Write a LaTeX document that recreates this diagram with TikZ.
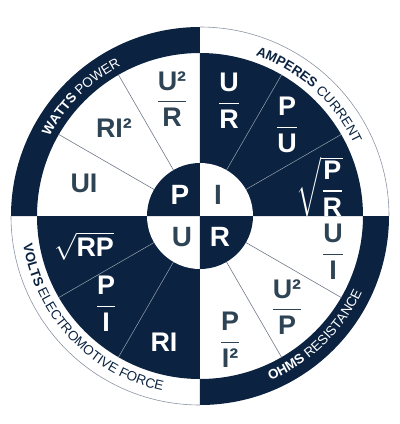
\RequirePackage{fix-cm}
\documentclass[tikz,border=0pt]{standalone}
\usepackage{amsmath}
\usepackage{fontspec}
\setmainfont{Liberation Sans}
\usepackage{tikz}
\usetikzlibrary{decorations.text}

\definecolor{navy}{HTML}{0B2341}
\definecolor{slate}{HTML}{2E4454}
\definecolor{rim}{HTML}{8C95A2}
\definecolor{spoke}{HTML}{6F7787}
\definecolor{spokelt}{HTML}{9AA3B0}

\newcommand{\ringfont}{\fontsize{13.5}{14}\selectfont}
\newcommand{\ratio}[2]{\ensuremath{\genfrac{}{}{1.5pt}{0}{\text{#1}}{\text{#2}}}}

\tikzset{
	form/.style={font=\bfseries\fontsize{27}{27}\selectfont, inner sep=0pt},
	onwhite/.style={form, text=slate},
	ondark/.style={form, text=white},
	hub/.style={font=\bfseries\fontsize{28}{28}\selectfont, inner sep=0pt},
}

\begin{document}
\begin{tikzpicture}[x=1bp,y=1bp]
		\useasboundingbox (-200,-208) rectangle (200,216);
		\coordinate (O) at (0,0);
		
		% ring and quarters
		\fill[navy] (90:189) arc[start angle=90, end angle=180, radius=189]
			-- (180:163) arc[start angle=180, end angle=90, radius=163] -- cycle;
		\fill[navy] (270:189) arc[start angle=270, end angle=360, radius=189]
			-- (0:163) arc[start angle=0, end angle=-90, radius=163] -- cycle;
		\fill[navy] (O) -- (0:163) arc[start angle=0, end angle=90, radius=163] -- cycle;
		\fill[navy] (O) -- (180:163) arc[start angle=180, end angle=270, radius=163] -- cycle;
		\draw[rim, line width=0.6pt] (0:189) arc[start angle=0, end angle=90, radius=189];
		\draw[rim, line width=0.6pt] (180:189) arc[start angle=180, end angle=270, radius=189];
		
		\foreach \a in {30,60,210,240}
			\draw[spokelt, line width=0.5pt] (\a:53) -- (\a:163);
		\foreach \a in {120,150,300,330}
			\draw[spoke, line width=0.6pt] (\a:53) -- (\a:163);
		
		% hub
		\fill[white] (O) circle[radius=53];
		\fill[navy] (O) -- (90:53) arc[start angle=90, end angle=180, radius=53] -- cycle;
		\fill[navy] (O) -- (-90:53) arc[start angle=-90, end angle=0, radius=53] -- cycle;
		\node[hub, text=white] (p) at (-20,21) {P};
		\node[hub, text=slate] (i) at (18,21) {I};
		\node[hub, text=slate] (u) at (-18,-21) {U};
		\node[hub, text=white] (r) at (20,-21) {R};
		
		% ring labels
		\path[decorate, decoration={text along path, text align=center, text color=white,
			text={|\ringfont\bfseries|WATTS |\ringfont\mdseries|POWER}}]
			(180:170) arc[start angle=180, end angle=90, radius=170];
		\path[decorate, decoration={text along path, text align=center, text color=navy,
			text={|\ringfont\bfseries|AMPERES |\ringfont\mdseries|CURRENT}}]
			(96:170) arc[start angle=96, end angle=0, radius=170];
		\path[decorate, decoration={text along path, text align=center, text color=navy,
			text={|\ringfont\bfseries|VOLTS |\ringfont\mdseries|ELECTROMOTIVE FORCE}}]
			(181:179) arc[start angle=181, end angle=266, radius=179];
		\path[decorate, decoration={text along path, text align=center, text color=white,
			text={|\ringfont\bfseries|OHMS |\ringfont\mdseries|RESISTANCE}}]
			(-92:179) arc[start angle=-92, end angle=0, radius=179];
		
		% formulas
		\node[onwhite] (usqr) at (-28,117) {\ratio{U²}{R}};
		\node[onwhite] (risq) at (-86,88) {RI²};
		\node[onwhite] (ui) at (-116,33) {UI};
		\node[ondark] (ur) at (29,115) {\ratio{U}{R}};
		\node[ondark] (pu) at (87,91) {\ratio{P}{U}};
		\node[ondark] (rtpr) at (120,29) {$\sqrt{\ratio{P}{R}}$};
		\node[onwhite] (uovi) at (133,-36) {\ratio{U}{I}};
		\node[onwhite] (usqp) at (87,-91) {\ratio{U²}{P}};
		\node[onwhite] (pisq) at (30,-124) {\ratio{P}{I²}};
		\node[ondark] (rtrp) at (-116,-30) {$\sqrt{\text{RP}}$};
		\node[ondark] (povi) at (-94,-88) {\ratio{P}{I}};
		\node[ondark] (ri) at (-36,-126) {RI};
	\end{tikzpicture}
\end{document}
